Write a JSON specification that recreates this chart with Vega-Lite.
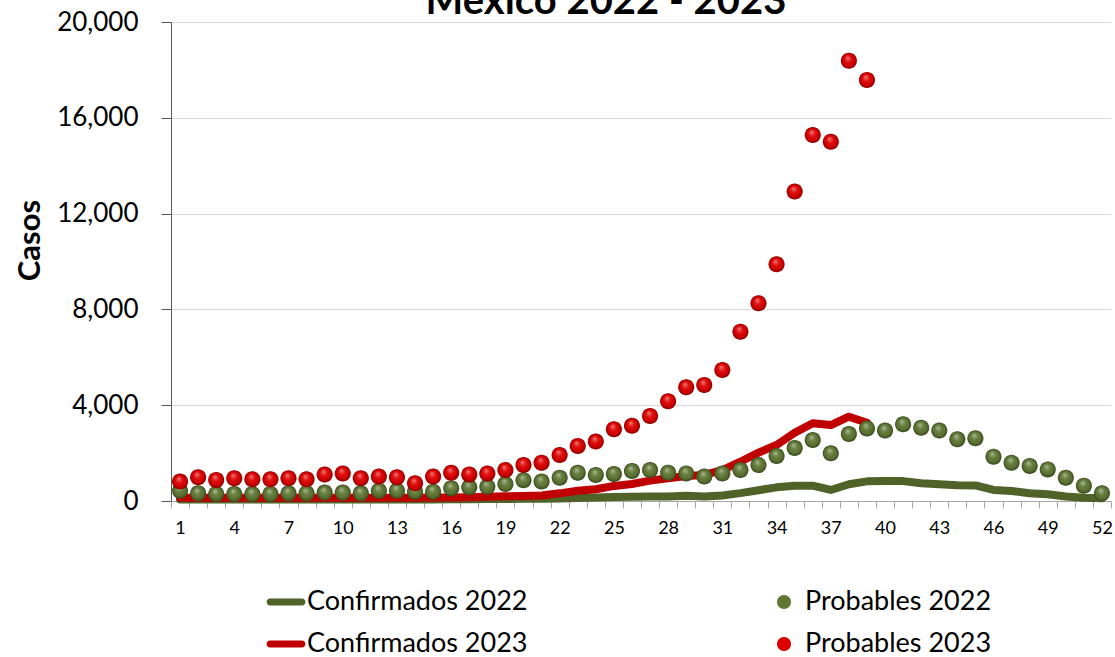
{
  "$schema": "https://vega.github.io/schema/vega-lite/v6.json",
  "width": 940,
  "height": 479,
  "autosize": {"type": "none"},
  "padding": {"left": 171, "top": 22, "right": 4, "bottom": 156},
  "background": "white",
  "config": {"view": {"stroke": null}, "font": "Lato"},
  "title": {"text": "México 2022 - 2023", "font": "Lato", "fontSize": 40, "fontWeight": "bold", "color": "#000000", "anchor": "middle", "frame": "group", "dx": -35, "dy": 45, "offset": 0, "baseline": "alphabetic"},
  "datasets": {
    "c22": [
      {"semana":1,"casos":60},{"semana":2,"casos":60},{"semana":3,"casos":60},{"semana":4,"casos":60},{"semana":5,"casos":60},{"semana":6,"casos":60},{"semana":7,"casos":60},{"semana":8,"casos":60},{"semana":9,"casos":60},{"semana":10,"casos":60},{"semana":11,"casos":60},{"semana":12,"casos":60},{"semana":13,"casos":60},{"semana":14,"casos":60},{"semana":15,"casos":60},{"semana":16,"casos":70},{"semana":17,"casos":70},{"semana":18,"casos":80},{"semana":19,"casos":80},{"semana":20,"casos":90},{"semana":21,"casos":90},{"semana":22,"casos":100},{"semana":23,"casos":130},{"semana":24,"casos":150},{"semana":25,"casos":170},{"semana":26,"casos":180},{"semana":27,"casos":190},{"semana":28,"casos":190},{"semana":29,"casos":220},{"semana":30,"casos":190},{"semana":31,"casos":230},{"semana":32,"casos":330},{"semana":33,"casos":450},{"semana":34,"casos":570},{"semana":35,"casos":640},{"semana":36,"casos":640},{"semana":37,"casos":460},{"semana":38,"casos":700},{"semana":39,"casos":820},{"semana":40,"casos":830},{"semana":41,"casos":830},{"semana":42,"casos":740},{"semana":43,"casos":700},{"semana":44,"casos":660},{"semana":45,"casos":650},{"semana":46,"casos":460},{"semana":47,"casos":420},{"semana":48,"casos":320},{"semana":49,"casos":280},{"semana":50,"casos":190},{"semana":51,"casos":140},{"semana":52,"casos":110}
    ],
    "c23": [
      {"semana":1,"casos":140},{"semana":2,"casos":140},{"semana":3,"casos":140},{"semana":4,"casos":140},{"semana":5,"casos":140},{"semana":6,"casos":140},{"semana":7,"casos":140},{"semana":8,"casos":140},{"semana":9,"casos":140},{"semana":10,"casos":140},{"semana":11,"casos":140},{"semana":12,"casos":140},{"semana":13,"casos":140},{"semana":14,"casos":140},{"semana":15,"casos":150},{"semana":16,"casos":150},{"semana":17,"casos":160},{"semana":18,"casos":180},{"semana":19,"casos":200},{"semana":20,"casos":210},{"semana":21,"casos":230},{"semana":22,"casos":320},{"semana":23,"casos":430},{"semana":24,"casos":490},{"semana":25,"casos":630},{"semana":26,"casos":710},{"semana":27,"casos":850},{"semana":28,"casos":950},{"semana":29,"casos":1040},{"semana":30,"casos":1090},{"semana":31,"casos":1290},{"semana":32,"casos":1640},{"semana":33,"casos":2020},{"semana":34,"casos":2340},{"semana":35,"casos":2850},{"semana":36,"casos":3250},{"semana":37,"casos":3170},{"semana":38,"casos":3520},{"semana":39,"casos":3270}
    ],
    "p22": [
      {"semana":1,"casos":430},{"semana":2,"casos":320},{"semana":3,"casos":290},{"semana":4,"casos":290},{"semana":5,"casos":290},{"semana":6,"casos":290},{"semana":7,"casos":320},{"semana":8,"casos":320},{"semana":9,"casos":350},{"semana":10,"casos":350},{"semana":11,"casos":320},{"semana":12,"casos":430},{"semana":13,"casos":430},{"semana":14,"casos":390},{"semana":15,"casos":390},{"semana":16,"casos":530},{"semana":17,"casos":570},{"semana":18,"casos":590},{"semana":19,"casos":710},{"semana":20,"casos":870},{"semana":21,"casos":810},{"semana":22,"casos":970},{"semana":23,"casos":1180},{"semana":24,"casos":1090},{"semana":25,"casos":1130},{"semana":26,"casos":1250},{"semana":27,"casos":1290},{"semana":28,"casos":1180},{"semana":29,"casos":1150},{"semana":30,"casos":1020},{"semana":31,"casos":1150},{"semana":32,"casos":1290},{"semana":33,"casos":1500},{"semana":34,"casos":1880},{"semana":35,"casos":2210},{"semana":36,"casos":2550},{"semana":37,"casos":1990},{"semana":38,"casos":2800},{"semana":39,"casos":3030},{"semana":40,"casos":2940},{"semana":41,"casos":3200},{"semana":42,"casos":3060},{"semana":43,"casos":2940},{"semana":44,"casos":2580},{"semana":45,"casos":2620},{"semana":46,"casos":1850},{"semana":47,"casos":1600},{"semana":48,"casos":1460},{"semana":49,"casos":1320},{"semana":50,"casos":970},{"semana":51,"casos":640},{"semana":52,"casos":320}
    ],
    "p23": [
      {"semana":1,"casos":810},{"semana":2,"casos":990},{"semana":3,"casos":880},{"semana":4,"casos":950},{"semana":5,"casos":905},{"semana":6,"casos":905},{"semana":7,"casos":950},{"semana":8,"casos":905},{"semana":9,"casos":1110},{"semana":10,"casos":1150},{"semana":11,"casos":950},{"semana":12,"casos":1020},{"semana":13,"casos":990},{"semana":14,"casos":740},{"semana":15,"casos":1020},{"semana":16,"casos":1180},{"semana":17,"casos":1110},{"semana":18,"casos":1150},{"semana":19,"casos":1290},{"semana":20,"casos":1500},{"semana":21,"casos":1600},{"semana":22,"casos":1920},{"semana":23,"casos":2300},{"semana":24,"casos":2480},{"semana":25,"casos":3000},{"semana":26,"casos":3140},{"semana":27,"casos":3550},{"semana":28,"casos":4170},{"semana":29,"casos":4750},{"semana":30,"casos":4840},{"semana":31,"casos":5470},{"semana":32,"casos":7070},{"semana":33,"casos":8260},{"semana":34,"casos":9880},{"semana":35,"casos":12920},{"semana":36,"casos":15280},{"semana":37,"casos":15000},{"semana":38,"casos":18380},{"semana":39,"casos":17580}
    ]
  },
  "encoding": {
    "x": {
      "field": "semana", "type": "ordinal",
      "scale": {"type": "band", "paddingInner": 0, "paddingOuter": 0, "domain": [1,2,3,4,5,6,7,8,9,10,11,12,13,14,15,16,17,18,19,20,21,22,23,24,25,26,27,28,29,30,31,32,33,34,35,36,37,38,39,40,41,42,43,44,45,46,47,48,49,50,51,52]},
      "axis": {"title": null, "labelAngle": 0, "labelFont": "Lato", "labelFontSize": 18, "labelColor": "#000000", "labelExpr": "datum.value % 3 == 1 ? datum.label : ''", "labelOverlap": false, "tickBand": "extent", "tickSize": 7, "tickColor": "#a6a6a6", "domainColor": "#a6a6a6", "labelPadding": 11, "grid": false}
    },
    "y": {
      "field": "casos", "type": "quantitative",
      "scale": {"domain": [0, 20000], "nice": false},
      "axis": {"title": "Casos", "values": [0,4000,8000,12000,16000,20000], "format": ",.0f", "labelFont": "Lato", "labelFontSize": 26, "labelColor": "#000000", "labelPadding": 23, "tickSize": 10, "tickColor": "#595959", "domainColor": "#595959", "grid": true, "gridColor": "#d9d9d9", "titleFont": "Lato", "titleFontSize": 31, "titleFontWeight": "bold", "titleColor": "#000000", "titleX": -141, "titleY": 218, "titleAngle": 270, "titleAlign": "center", "titleBaseline": "middle"}
    }
  },
  "layer": [
    {
      "data": {"name": "c22"},
      "transform": [{"calculate": "'Confirmados 2022'", "as": "serie"}],
      "mark": {"type": "line", "strokeWidth": 8, "strokeCap": "round", "strokeJoin": "round"},
      "encoding": {"color": {"field": "serie", "type": "nominal", "scale": {"domain": ["Confirmados 2022","Probables 2022","Confirmados 2023","Probables 2023"], "range": ["#4f6228","#5f7734","#c00000","#dd0000"]}, "legend": {"title": null, "orient": "none", "legendX": 95, "legendY": 560, "columns": 2, "columnPadding": 236, "rowPadding": 9, "symbolSize": 1600, "values": ["Confirmados 2022","Confirmados 2023","Probables 2022","Probables 2023"], "labelFont": "Lato", "labelFontSize": 27, "labelColor": "#000000", "labelOffset": 1, "labelLimit": 400, "symbolStrokeWidth": 0, "symbolOpacity": 1, "encode": {"symbols": {"update": {"fill": {"scale": "color", "field": "value"}, "strokeWidth": {"value": 0}, "opacity": {"value": 1}}}}}}}
    },
    {
      "data": {"name": "c23"},
      "transform": [{"calculate": "'Confirmados 2023'", "as": "serie"}],
      "mark": {"type": "line", "strokeWidth": 8, "strokeCap": "round", "strokeJoin": "round"},
      "encoding": {"color": {"field": "serie", "type": "nominal"}}
    },
    {
      "data": {"name": "p22"},
      "transform": [{"calculate": "'Probables 2022'", "as": "serie"}],
      "mark": {"type": "point", "filled": true, "opacity": 1, "size": 2090, "strokeWidth": 0},
      "encoding": {
        "color": {"field": "serie", "type": "nominal"},
        "shape": {"field": "serie", "type": "nominal", "scale": {"domain": ["Confirmados 2022","Probables 2022","Confirmados 2023","Probables 2023"], "range": ["M-0.8,-0.17L0.8,-0.17A0.17,0.17,0,0,1,0.8,0.17L-0.8,0.17A0.17,0.17,0,0,1,-0.8,-0.17Z","M0.35,0A0.35,0.35,0,1,1,-0.35,0A0.35,0.35,0,1,1,0.35,0Z","M-0.8,-0.17L0.8,-0.17A0.17,0.17,0,0,1,0.8,0.17L-0.8,0.17A0.17,0.17,0,0,1,-0.8,-0.17Z","M0.35,0A0.35,0.35,0,1,1,-0.35,0A0.35,0.35,0,1,1,0.35,0Z"]}, "legend": {"title": null, "orient": "none", "legendX": 95, "legendY": 560, "columns": 2, "columnPadding": 236, "rowPadding": 9, "symbolSize": 1600, "values": ["Confirmados 2022","Confirmados 2023","Probables 2022","Probables 2023"], "labelFont": "Lato", "labelFontSize": 27, "labelColor": "#000000", "labelOffset": 1, "labelLimit": 400, "symbolStrokeWidth": 0, "symbolOpacity": 1, "encode": {"symbols": {"update": {"fill": {"scale": "color", "field": "value"}, "strokeWidth": {"value": 0}, "opacity": {"value": 1}}}}}}
      }
    },
    {
      "data": {"name": "p22"},
      "mark": {"type": "point", "filled": true, "opacity": 1, "size": 2090, "strokeWidth": 0, "shape": "M0.35,0A0.35,0.35,0,1,1,-0.35,0A0.35,0.35,0,1,1,0.35,0Z", "fill": {"gradient": "radial", "x1": 0.42, "y1": 0.3, "r1": 0, "x2": 0.5, "y2": 0.5, "r2": 0.5, "stops": [{"offset": 0, "color": "rgba(255,255,255,0.5)"}, {"offset": 0.4, "color": "rgba(255,255,255,0.08)"}, {"offset": 0.75, "color": "rgba(0,0,0,0.05)"}, {"offset": 1, "color": "rgba(0,0,0,0.4)"}]}}
    },
    {
      "data": {"name": "p23"},
      "transform": [{"calculate": "'Probables 2023'", "as": "serie"}],
      "mark": {"type": "point", "filled": true, "opacity": 1, "size": 2090, "strokeWidth": 0},
      "encoding": {
        "color": {"field": "serie", "type": "nominal"},
        "shape": {"field": "serie", "type": "nominal"}
      }
    },
    {
      "data": {"name": "p23"},
      "mark": {"type": "point", "filled": true, "opacity": 1, "size": 2090, "strokeWidth": 0, "shape": "M0.35,0A0.35,0.35,0,1,1,-0.35,0A0.35,0.35,0,1,1,0.35,0Z", "fill": {"gradient": "radial", "x1": 0.42, "y1": 0.3, "r1": 0, "x2": 0.5, "y2": 0.5, "r2": 0.5, "stops": [{"offset": 0, "color": "rgba(255,255,255,0.5)"}, {"offset": 0.4, "color": "rgba(255,255,255,0.08)"}, {"offset": 0.75, "color": "rgba(0,0,0,0.05)"}, {"offset": 1, "color": "rgba(0,0,0,0.4)"}]}}
    }
  ]
}
